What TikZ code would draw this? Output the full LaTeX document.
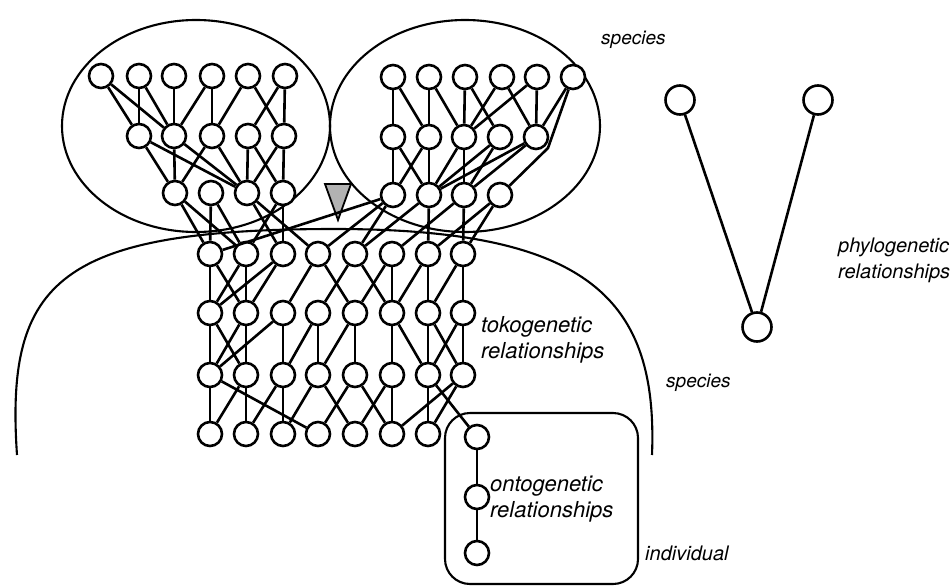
\documentclass[tikz,border=0pt]{standalone}
\usepackage{fontspec}
\setmainfont{TeX Gyre Heros}
\begin{document}
\begin{tikzpicture}[x=1pt,y=-1pt,
  nd/.style={circle,draw,fill=white,line width=2.6pt,minimum size=24pt,inner sep=0pt},
  pn/.style={nd,minimum size=29pt},
  ln/.style={line width=2.6pt},
  outl/.style={line width=2.1pt},
  lbl/.style={anchor=base west,inner sep=0pt},
  big/.style={lbl,font=\fontsize{22}{26}\selectfont\itshape},
  mid/.style={lbl,font=\fontsize{20}{24}\selectfont\itshape},
  sml/.style={lbl,font=\fontsize{19}{22}\selectfont\itshape}]
\useasboundingbox (0,0) rectangle (950,586);
% outlines
\draw[outl] (196,126) ellipse [x radius=134pt, y radius=106pt];
\draw[outl] (465,126) ellipse [x radius=135pt, y radius=106pt];
\draw[outl] (17,455) .. controls (5,280) and (60,229) .. (335,229) .. controls (590,229) and (658,300) .. (652,455);
\draw[outl, rounded corners=25pt] (445,413) rectangle (638,584);
\filldraw[line width=1.8pt, fill=gray!60] (325,184) -- (351,184) -- (338,220) -- cycle;
% nodes
\foreach \x [count=\i] in {101,139,174,212,248,285} \node[nd] (lT\i) at (\x,76) {};
\foreach \x [count=\i] in {139,174,212,248,284} \node[nd] (lM\i) at (\x,136) {};
\foreach \x [count=\i] in {175,211,247,283} \node[nd] (lB\i) at (\x,193) {};
\foreach \x [count=\i] in {393,429,465,502,537,573} \node[nd] (rT\i) at (\x,77) {};
\foreach \x [count=\i] in {393,429,464,500,536} \node[nd] (rM\i) at (\x,137) {};
\foreach \x [count=\i] in {393,429,464,500} \node[nd] (rB\i) at (\x,195) {};
\foreach \x [count=\i] in {210,246,283,318,355,392,428,463} {
  \node[nd] (A\i) at (\x,254) {};
  \node[nd] (B\i) at (\x,313) {};
  \node[nd] (C\i) at (\x,375) {};
}
\foreach \x [count=\i] in {210,246,283,318,355,392,428} \node[nd] (D\i) at (\x,434) {};
\node[nd] (I1) at (477,437) {};
\node[nd] (I2) at (477,497) {};
\node[nd] (I3) at (477,553) {};
\node[pn] (P1) at (680,100) {};
\node[pn] (P2) at (818,100) {};
\node[pn] (P3) at (757,327) {};
\coordinate (K) at (548,148);
% edges
\foreach \a/\b in {lT1/lM1,lT1/lM2,lT2/lM1,lT2/lM2,lT3/lM2,lT4/lM2,lT4/lM3,lT5/lM3,lT5/lM5,lT6/lM4,lT6/lM5,
  lM1/lB1,lM1/lB3,lM2/lB1,lM2/lB3,lM3/lB1,lM3/lB3,lM4/lB3,lM4/lB4,lM5/lB3,lM5/lB4,
  lB1/A1,lB1/A2,lB2/A1,lB2/A2,lB3/A3,lB3/A4,lB4/A2,lB4/A3,
  rT1/rM1,rT1/rM2,rT2/rM2,rT2/rM3,rT3/rM3,rT3/rM4,rT4/rM3,rT4/rM5,rT5/rM3,rT5/rM5,rT6/rM5,
  rM1/rB1,rM1/rB2,rM2/rB1,rM2/rB2,rM3/rB2,rM3/rB3,rM4/rB2,rM4/rB3,rM5/rB2,rM5/rB3,
  rB1/A4,rB1/A5,rB1/A1,rB2/A5,rB2/A7,rB3/A6,rB3/A8,rB4/A7,rB4/A8,
  A1/B1,A1/B2,A2/B1,A2/B2,A3/B1,A3/B2,A4/B3,A4/B5,A5/B4,A5/B6,A6/B5,A6/B6,A7/B6,A7/B7,A8/B7,A8/B8,
  B1/C1,B1/C2,B2/C1,B2/C2,B3/C1,B3/C3,B4/C3,B4/C4,B5/C4,B5/C5,B6/C6,B6/C7,B7/C7,B7/C8,B8/C7,B8/C8,
  C1/D1,C1/D4,C2/D1,C2/D2,C3/D2,C3/D3,C4/D3,C4/D5,C5/D4,C5/D6,C6/D5,C6/D6,C7/D7,C7/I1,C8/D6,C8/D7,
  I1/I2,I2/I3,P1/P3,P2/P3}
  \draw[ln] (\a) -- (\b);
\draw[ln, line join=round] (rT6) -- (K) -- (rB4);
% labels
\node[sml] (t1) at (601,45) {species};
\node[mid] (t2) at (838,252) {phylogenetic};
\node[mid] (t3) at (838,278) {relationships};
\node[big] (t4) at (481,332) {tokogenetic};
\node[big] (t5) at (481,358) {relationships};
\node[sml] (t6) at (666,387) {species};
\node[big] (t7) at (490,491) {ontogenetic};
\node[big] (t8) at (490,517) {relationships};
\node[mid] (t9) at (645,560) {individual};
\end{tikzpicture}
\end{document}
